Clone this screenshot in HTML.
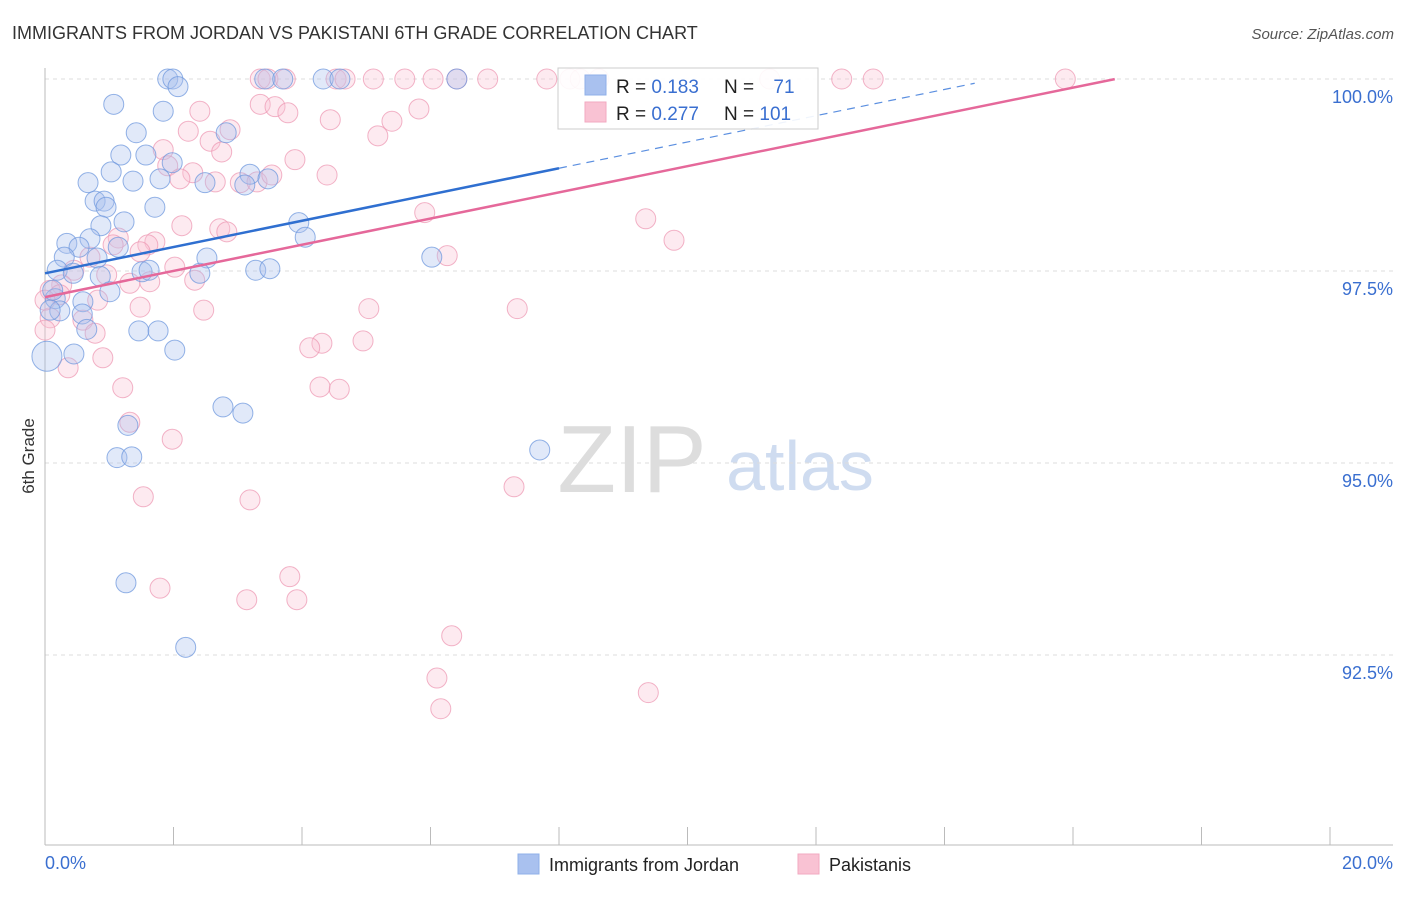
<!DOCTYPE html>
<html><head><meta charset="utf-8"><style>
body{margin:0;background:#fff;font-family:"Liberation Sans",sans-serif;}
svg text{font-family:"Liberation Sans",sans-serif;}
</style></head><body>
<svg id="chart" width="1406" height="892" xmlns="http://www.w3.org/2000/svg">
<text x="12" y="39" font-size="18" fill="#333">IMMIGRANTS FROM JORDAN VS PAKISTANI 6TH GRADE CORRELATION CHART</text>
<text x="1394" y="39" font-size="15" fill="#555" font-style="italic" text-anchor="end">Source: ZipAtlas.com</text>
<text x="34" y="456" font-size="17" fill="#333" text-anchor="middle" transform="rotate(-90 34 456)">6th Grade</text>
<text x="632" y="492" font-size="96" fill="#ddd" font-family="Liberation Serif" text-anchor="middle">ZIP</text>
<text x="800" y="490" font-size="70" fill="#cfdcf0" text-anchor="middle">atlas</text>
<g id="grid"></g><g id="axes"></g><g id="pts"></g><g id="trend"></g>
<g>
<rect x="558" y="68" width="260" height="61" fill="#fff" fill-opacity="0.9" stroke="#ccc"/>
<rect x="585" y="75" width="21" height="20" fill="#a9c1ef" stroke="#8fb0e8"/>
<rect x="585" y="102" width="21" height="20" fill="#f9c2d3" stroke="#f2a9c0"/>
<text x="616" y="93" font-size="19" fill="#222">R = <tspan fill="#3a6fd0">0.183</tspan></text>
<text x="724" y="93" font-size="19" fill="#222">N = <tspan fill="#3a6fd0" dx="14">71</tspan></text>
<text x="616" y="120" font-size="19" fill="#222">R = <tspan fill="#3a6fd0">0.277</tspan></text>
<text x="724" y="120" font-size="19" fill="#222">N = <tspan fill="#3a6fd0">101</tspan></text>
</g>
<g>
<rect x="518" y="854" width="21" height="20" fill="#a9c1ef" stroke="#8fb0e8"/>
<text x="549" y="871" font-size="18" fill="#222">Immigrants from Jordan</text>
<rect x="798" y="854" width="21" height="20" fill="#f9c2d3" stroke="#f2a9c0"/>
<text x="829" y="871" font-size="18" fill="#222">Pakistanis</text>
</g>
</svg>
<script>
const jordanX=[1.91,1.99,2.07,3.42,3.70,4.33,4.59,6.41,1.07,1.84,1.42,2.82,1.18,1.57,1.98,1.03,3.19,0.67,1.37,1.79,2.49,3.11,3.47,0.78,0.92,0.95,1.71,1.23,0.87,3.95,4.05,0.70,0.34,0.53,1.14,0.30,0.81,2.52,6.02,0.19,0.44,0.86,1.51,1.62,2.41,3.28,3.50,1.01,0.16,0.59,0.23,0.58,0.65,1.46,1.76,2.02,0.45,0.03,2.77,3.08,1.29,1.12,1.35,7.70,1.26,2.19,0.08,0.12];
const jordanY=[100,100,99.90,100,100,100,100,100,99.67,99.58,99.30,99.30,99.01,99.01,98.91,98.79,98.76,98.65,98.67,98.70,98.65,98.62,98.70,98.41,98.41,98.33,98.33,98.14,98.09,98.13,97.94,97.92,97.86,97.81,97.81,97.68,97.67,97.67,97.68,97.51,97.47,97.43,97.49,97.51,97.47,97.51,97.53,97.23,97.14,97.10,96.98,96.94,96.74,96.72,96.72,96.47,96.42,96.39,95.73,95.65,95.49,95.07,95.08,95.17,93.44,92.60,96.99,97.25];
const pakX=[3.35,3.47,3.74,4.53,4.67,5.11,5.60,6.04,6.41,6.89,7.81,8.17,8.33,8.62,11.28,12.40,12.89,15.88,2.41,3.35,3.58,3.78,5.82,2.23,2.88,4.44,5.40,5.18,2.57,1.84,2.75,3.89,1.91,2.30,2.10,2.65,3.04,3.30,3.53,4.39,5.91,9.35,2.13,2.72,2.83,9.79,1.14,1.71,1.06,1.60,1.48,0.70,6.26,2.02,0.45,0.96,2.33,1.63,0.26,1.32,0.08,0.23,0.82,1.48,2.47,5.04,7.35,0.08,0.59,0.78,4.31,4.12,4.95,0.90,0.36,1.21,4.28,4.58,1.32,1.98,7.30,1.53,3.19,3.81,1.79,3.14,3.92,6.33,6.10,9.39,6.16,0.0,0.0];
const pakY=[100,100,100,100,100,100,100,100,100,100,100,100,100,100,100,100,100,100,99.58,99.67,99.64,99.56,99.61,99.32,99.34,99.47,99.45,99.26,99.19,99.08,99.05,98.95,98.87,98.78,98.70,98.66,98.65,98.66,98.75,98.75,98.26,98.18,98.09,98.05,98.01,97.90,97.93,97.88,97.84,97.84,97.75,97.68,97.70,97.55,97.51,97.45,97.38,97.36,97.32,97.34,97.25,97.19,97.12,97.03,96.99,97.01,97.01,96.89,96.86,96.69,96.56,96.50,96.59,96.37,96.24,95.98,95.99,95.96,95.53,95.31,94.69,94.56,94.52,93.52,93.37,93.22,93.22,92.75,92.20,92.01,91.80,96.73,97.12];
const yTicks=[100,97.5,95,92.5];
const yTickLabels=["100.0%","97.5%","95.0%","92.5%"];
const xTicks=[0,2,4,6,8,10,12,14,16,18,20];
const xEndLabels=["0.0%","20.0%"];
const trendJordan=[97.47,0.171,8,14.47];
const trendPak=[97.16,0.1705,16.65];

const NS="http://www.w3.org/2000/svg";
const X0=45,X1=1330,Ytop=79,Ybot=845;
const xs=v=>X0+(v/20)*(X1-X0);
const ys=v=>Ytop+(100-v)/2.5*192;
function mk(tag,attrs,parent){const e=document.createElementNS(NS,tag);for(const k in attrs)e.setAttribute(k,attrs[k]);document.getElementById(parent).appendChild(e);return e;}
yTicks.forEach((t,i)=>{
 const l=mk('line',{x1:X0,x2:1393,y1:ys(t),y2:ys(t),stroke:'#ddd','stroke-dasharray':'4 4'},'grid');
 
 
 const tx=mk('text',{x:1393,y:ys(t)+24,'font-size':18,fill:'#3a6fd0','text-anchor':'end'},'axes');
 tx.textContent=yTickLabels[i];
 
 
});
const ax=mk('line',{x1:X0,x2:1393,y1:Ybot,y2:Ybot,stroke:'#bbb'},'axes');


const ay=mk('line',{x1:X0,x2:X0,y1:68,y2:Ybot,stroke:'#bbb'},'axes');


xTicks.forEach(t=>{
 const l=mk('line',{x1:xs(t),x2:xs(t),y1:Ybot,y2:Ybot-18,stroke:'#bbb'},'axes');
 
 
});
[[0,'start',45],[20,'end',1393]].forEach((d,i)=>{
 const tx=mk('text',{x:d[2],y:869,'font-size':18,fill:'#3a6fd0','text-anchor':d[1]},'axes');
 tx.textContent=xEndLabels[i];
 
 
});
function dots(X,Y,fill,stroke,name){
 X.forEach((x,i)=>{
  const big=(x<0.05&&name==='jordan-point')?15:10;
  const c=mk('circle',{cx:xs(x),cy:ys(Y[i]),r:big,fill:fill,'fill-opacity':0.35,stroke:stroke,'stroke-opacity':0.75},'pts');
  
  
 });
}
dots(pakX,pakY,'#f9c2d3','#ee9ab4','pakistani-point');
dots(jordanX,jordanY,'#a9c1ef','#6f98dd','jordan-point');
const tj1=mk('line',{x1:xs(0),y1:ys(trendJordan[0]),x2:xs(trendJordan[2]),y2:ys(trendJordan[0]+trendJordan[1]*trendJordan[2]),stroke:'#2f6fd0','stroke-width':2.5},'trend');


const tj2=mk('line',{x1:xs(trendJordan[2]),y1:ys(trendJordan[0]+trendJordan[1]*trendJordan[2]),x2:xs(trendJordan[3]),y2:ys(trendJordan[0]+trendJordan[1]*trendJordan[3]),stroke:'#5b8fe0','stroke-width':1.2,'stroke-dasharray':'8 6'},'trend');


const tp=mk('line',{x1:xs(0),y1:ys(trendPak[0]),x2:xs(trendPak[2]),y2:ys(trendPak[0]+trendPak[1]*trendPak[2]),stroke:'#e5689a','stroke-width':2.5},'trend');


</script>
</body></html>
